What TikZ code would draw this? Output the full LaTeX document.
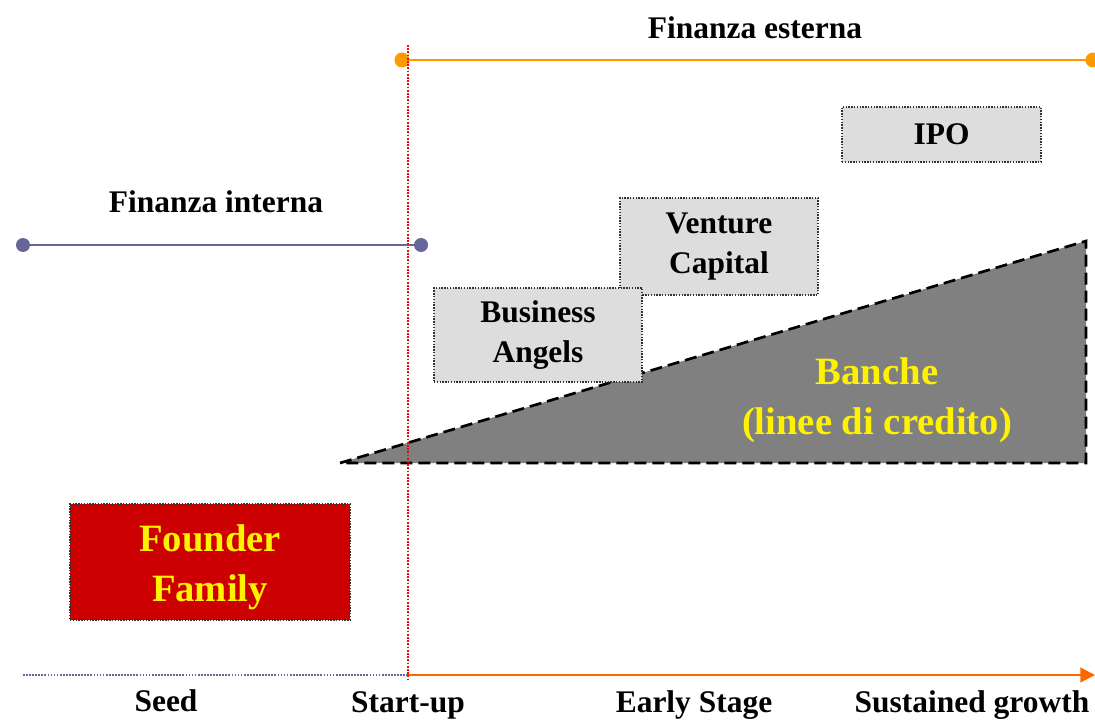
\documentclass[tikz,border=0pt]{standalone}
\usepackage{fontspec}
\setmainfont{Liberation Serif}
\usetikzlibrary{arrows.meta}

\definecolor{extorange}{RGB}{255,153,0}
\definecolor{axisorange}{RGB}{255,102,0}
\definecolor{intblue}{RGB}{102,102,153}
\definecolor{founderred}{RGB}{204,0,0}
\definecolor{boxgray}{RGB}{221,221,221}
\definecolor{bankgray}{RGB}{128,128,128}

\tikzset{every picture/.style={line width=0.75pt}}
\tikzset{
  smalltext/.style={font=\fontsize{23.6}{30}\selectfont\bfseries, align=center, inner sep=0pt},
  bigtext/.style={font=\fontsize{29}{37.5}\selectfont\bfseries, align=center, inner sep=0pt, text=yellow},
  sourcebox/.style={smalltext, draw=black!80, densely dotted, line width=1.1pt, fill=boxgray},
}

\begin{document}
\begin{tikzpicture}[x=0.75pt,y=0.75pt,yscale=-1,xscale=1]
	\useasboundingbox (0,0) rectangle (1095,720);

	%Points
	\coordinate (ext-l) at (402,60);
	\coordinate (ext-r) at (1093,60);
	\coordinate (int-l) at (23,245);
	\coordinate (int-r) at (421,245);
	\coordinate (split-top) at (408,45);
	\coordinate (split-bot) at (408,680);
	\coordinate (axis-l) at (23,675);
	\coordinate (axis-m) at (408,675);
	\coordinate (axis-r) at (1095,675);
	\coordinate (bank-a) at (340,463);
	\coordinate (bank-b) at (1086,241);
	\coordinate (bank-c) at (1086,463);

	%Shape: Triangle [banche]
	\draw [fill=bankgray, line width=2pt, dash pattern=on 9pt off 4.5pt] (bank-a) -- (bank-b) -- (bank-c) -- cycle;

	%Straight Lines [finanza esterna / interna]
	\draw [color=extorange, line width=1.6pt] (ext-l) -- (ext-r);
	\draw [color=intblue, line width=1.6pt] (int-l) -- (int-r);
	\fill [extorange] (ext-l) circle (7.5) (ext-r) circle (7.5);
	\fill [intblue] (int-l) circle (7) (int-r) circle (7);

	%Axis
	\draw [color=intblue, densely dotted, line width=1.3pt] (axis-l) -- (axis-m);
	\draw [color=axisorange, line width=1.6pt, -{Triangle[length=11pt,width=11pt]}] (axis-m) -- (axis-r);

	%Straight Lines [start-up]
	\draw [color=red, densely dotted, line width=1.4pt] (split-top) -- (split-bot);

	%Boxes
	\node [sourcebox, minimum width=149.25pt, minimum height=41.25pt] (ipo) at (941.5,134.5) {IPO};
	\node [sourcebox, minimum width=148.5pt, minimum height=72.75pt] (vc) at (719,246.5) {Venture\\Capital};
	\node [sourcebox, minimum width=156pt, minimum height=70.5pt] (ba) at (538,335) {Business\\Angels};
	\node [draw=black!80, densely dotted, line width=1.1pt, fill=founderred, minimum width=210pt, minimum height=87pt] (founder) at (210,562) {};
	\node [bigtext] (founder-text) at (210,567) {Founder\\Family};

	% Text Node
	\node [bigtext] (banche) at (877,400) {Banche\\(linee di credito)};
	\node [smalltext] (ext-label) at (755,28) {Finanza esterna};
	\node [smalltext] (int-label) at (216,202) {Finanza interna};
	\node [smalltext] (seed) at (166,701) {Seed};
	\node [smalltext] (startup) at (408,705) {Start-up};
	\node [smalltext] (early) at (694,705) {Early Stage};
	\node [smalltext] (growth) at (972,705) {Sustained growth};

\end{tikzpicture}
\end{document}
